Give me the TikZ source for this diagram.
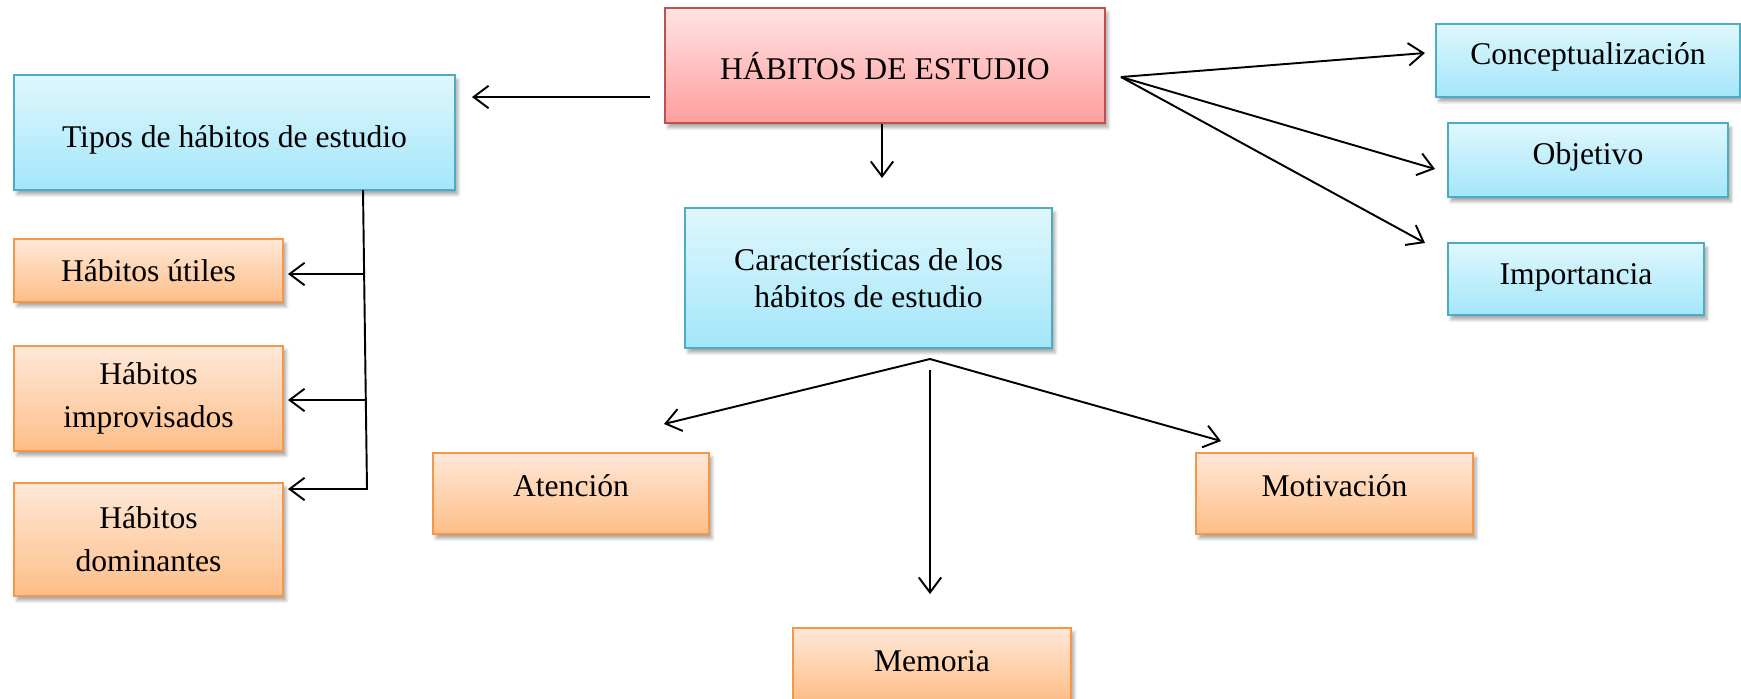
\documentclass[tikz,border=0pt]{standalone}
\usepackage{fontspec}
\setmainfont{Liberation Serif}
\usetikzlibrary{arrows.meta,shadows.blur,calc}
\definecolor{bluetop}{HTML}{E0F7FD}
\definecolor{bluebot}{HTML}{A3E6FA}
\definecolor{blueline}{HTML}{4BACC6}
\definecolor{orangetop}{HTML}{FFE8D8}
\definecolor{orangebot}{HTML}{FDBE88}
\definecolor{orangeline}{HTML}{F79646}
\definecolor{redtop}{HTML}{FFE3E3}
\definecolor{redbot}{HTML}{FF9E9E}
\definecolor{redline}{HTML}{C0504D}
\newcommand\rz[2]{\raisebox{#1}[\height][\depth]{#2}}
\begin{document}
\begin{tikzpicture}[x=0.02cm,y=-0.02cm,
  box/.style={rectangle, inner sep=0pt, align=center, line width=1pt,
    font=\fontsize{18}{24.4}\selectfont,
    blur shadow={shadow xshift=0.6mm, shadow yshift=-0.9mm, shadow blur steps=6, shadow opacity=35}},
  oneline/.style={text height=12pt, text depth=4pt},
  bluebox/.style={box, draw=blueline, top color=bluetop, bottom color=bluebot},
  orangebox/.style={box, draw=orangeline, top color=orangetop, bottom color=orangebot},
  redbox/.style={box, draw=redline, top color=redtop, bottom color=redbot},
  conn/.style={line width=1.1pt, black},
  arr/.style={conn, -{Straight Barb[length=0.3cm,width=0.45cm]}}]
\useasboundingbox (0,0) rectangle (1741,698);
\clip (0,0) rectangle (1741,698);

% nodes
\node[redbox, oneline, minimum width=8.8cm, minimum height=2.3cm] (main) at (885,65.5) {\rz{-4pt}{HÁBITOS DE ESTUDIO}};
\node[bluebox, oneline, minimum width=8.82cm, minimum height=2.3cm] (tipos) at (234.5,132.5) {\rz{-4.3pt}{Tipos de hábitos de estudio}};
\node[orangebox, oneline, minimum width=5.38cm, minimum height=1.26cm] (util) at (148.5,270.5) {\rz{-2pt}{Hábitos útiles}};
\node[orangebox, minimum width=5.38cm, minimum height=2.1cm] (impro) at (148.5,398.5) {Hábitos\\improvisados};
\node[orangebox, minimum width=5.38cm, minimum height=2.26cm] (domin) at (148.5,539.5) {Hábitos\\dominantes};
\node[bluebox, oneline, minimum width=6.08cm, minimum height=1.46cm] (concept) at (1588,60.5) {\rz{1.7pt}{Conceptualización}};
\node[bluebox, oneline, minimum width=5.6cm, minimum height=1.48cm] (objet) at (1588,160) {\rz{1.2pt}{Objetivo}};
\node[bluebox, oneline, minimum width=5.12cm, minimum height=1.44cm] (import) at (1576,279) {\rz{0.8pt}{Importancia}};
\node[bluebox, minimum width=7.34cm, minimum height=2.8cm, font=\fontsize{18}{21}\selectfont] (caract) at (868.5,278) {Características de los\\hábitos de estudio};
\node[orangebox, oneline, minimum width=5.52cm, minimum height=1.62cm] (atenc) at (571,493.5) {\rz{2.2pt}{Atención}};
\node[orangebox, oneline, minimum width=5.54cm, minimum height=1.62cm] (motiv) at (1334.5,493.5) {\rz{2.4pt}{Motivación}};
\node[orangebox, oneline, minimum width=5.56cm, minimum height=1.44cm] (memo) at (932,664) {\rz{-0.4pt}{Memoria}};

% free ends of connectors
\coordinate (mainL) at (650,97);
\coordinate (tiposT) at (472,97);
\coordinate (mainB) at (882,124);
\coordinate (caractT) at (882,178);
\coordinate (fanR) at (1121,77);
\coordinate (conceptT) at (1425,53);
\coordinate (objetT) at (1435,169);
\coordinate (importT) at (1425,243);
\coordinate (trunkTop) at (363,190);
\coordinate (trunkBot) at (367,489);
\coordinate (b1) at (363,274);
\coordinate (b2) at (365,400);
\coordinate (utilT) at (288,274);
\coordinate (improT) at (288,400);
\coordinate (dominT) at (288,489);
\coordinate (fanC) at (930,359);
\coordinate (atencT) at (664,424);
\coordinate (motivT) at (1221,441);
\coordinate (vTop) at (930,370);
\coordinate (memoT) at (930,594);

% connectors
\draw[arr] (mainL) -- (tiposT);
\draw[arr] (mainB) -- (caractT);
\draw[arr] (fanR) -- (conceptT);
\draw[arr] (fanR) -- (objetT);
\draw[arr] (fanR) -- (importT);
\draw[arr] (trunkTop) -- (trunkBot) -- (dominT);
\draw[arr] (b1) -- (utilT);
\draw[arr] (b2) -- (improT);
\draw[arr] (fanC) -- (atencT);
\draw[arr] (fanC) -- (motivT);
\draw[arr] (vTop) -- (memoT);
\end{tikzpicture}
\end{document}
